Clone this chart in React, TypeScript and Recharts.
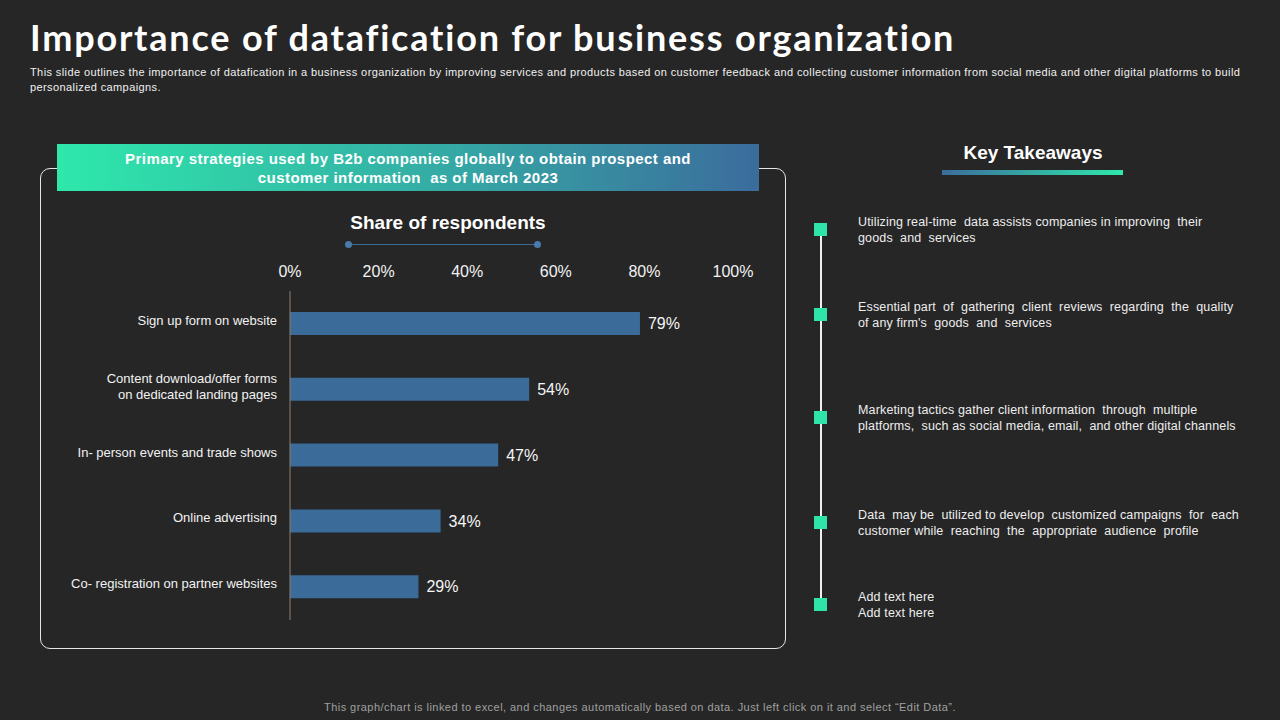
import React from "react";
import { BarChart, Bar, XAxis, YAxis, LabelList } from "recharts";

const categories = [
  "Sign up form on website",
  "Content download/offer forms\non dedicated landing pages",
  "In- person events and trade shows",
  "Online advertising",
  "Co- registration on partner websites",
];
const shares = [79, 54, 47, 34, 29];
const xTicks = [0, 20, 40, 60, 80, 100];

const takeaways = [
  "Utilizing real-time  data assists companies in improving  their\ngoods  and  services",
  "Essential part  of  gathering  client  reviews  regarding  the  quality\nof any firm's  goods  and  services",
  "Marketing tactics gather client information  through  multiple\nplatforms,  such as social media, email,  and other digital channels",
  "Data  may be  utilized to develop  customized campaigns  for  each\ncustomer while  reaching  the  appropriate  audience  profile",
  "Add text here\nAdd text here",
];
const takeawayY = [213, 298, 401, 506, 588];
const markerY = [229, 314, 417, 522, 604];

const data = categories.map((name, i) => ({ name, share: shares[i] }));

const BG = "#262626";
const BAR = "#3b6b98";
const GREEN = "#2ee4a8";
const NARROW = "'Liberation Sans Narrow', 'Liberation Sans', Arial, sans-serif";
const SANS = "'Liberation Sans', Arial, sans-serif";

function CategoryTick(props: any) {
  const { x, y, payload } = props;
  const lines = String(payload.value).split("\n");
  const lh = 16;
  const start = y - ((lines.length - 1) * lh) / 2;
  return (
    <text x={x - 5} y={start} textAnchor="end" fill="#f2f2f2" fontSize={13} fontFamily={NARROW} dominantBaseline="middle">
      {lines.map((l, i) => (
        <tspan key={i} x={x - 5} y={start + i * lh - 2}>
          {l}
        </tspan>
      ))}
    </text>
  );
}

export default function App() {
  return (
    <div
      style={{
        position: "absolute",
        left: 0,
        top: 0,
        width: 1280,
        height: 720,
        background: BG,
        overflow: "hidden",
        fontFamily: SANS,
        color: "#fff",
      }}
    >
      <div
        style={{
          position: "absolute",
          left: 30,
          top: 15,
          fontSize: 36,
          fontWeight: 700,
          fontFamily: "Lato, 'DejaVu Sans', sans-serif",
          letterSpacing: 1.8,
          whiteSpace: "nowrap",
        }}
      >
        Importance of datafication for business organization
      </div>
      <div
        style={{
          position: "absolute",
          left: 30,
          top: 65,
          fontSize: 11,
          lineHeight: "15px",
          fontFamily: NARROW,
          color: "#f0f0f0",
          letterSpacing: 0.4,
          whiteSpace: "pre",
        }}
      >
        {"This slide outlines the importance of datafication in a business organization by improving services and products based on customer feedback and collecting customer information from social media and other digital platforms to build\npersonalized campaigns."}
      </div>

      {/* chart box */}
      <div
        style={{
          position: "absolute",
          left: 40,
          top: 168,
          width: 746,
          height: 481,
          border: "1px solid #e6e6e6",
          borderRadius: 10,
          boxSizing: "border-box",
        }}
      />
      <div
        style={{
          position: "absolute",
          left: 57,
          top: 144,
          width: 702,
          height: 47,
          background: "linear-gradient(90deg, #2ee8ab 0%, #34b1a6 50%, #3b6c9c 100%)",
          textAlign: "center",
          fontSize: 15,
          fontWeight: 700,
          lineHeight: "19px",
          paddingTop: 5,
          boxSizing: "border-box",
          fontFamily: NARROW,
          whiteSpace: "pre",
          letterSpacing: 0.45,
        }}
      >
        {"Primary strategies used by B2b companies globally to obtain prospect and\ncustomer information  as of March 2023"}
      </div>
      <div
        style={{
          position: "absolute",
          left: 300,
          top: 212,
          width: 296,
          textAlign: "center",
          fontSize: 19,
          fontWeight: 700,
          fontFamily: NARROW,
        }}
      >
        Share of respondents
      </div>
      <div style={{ position: "absolute", left: 348, top: 243.5, width: 189, height: 1, background: BAR }} />
      <div style={{ position: "absolute", left: 345, top: 241, width: 7, height: 7, borderRadius: 4, background: "#4a7aab" }} />
      <div style={{ position: "absolute", left: 534, top: 241, width: 7, height: 7, borderRadius: 4, background: "#4a7aab" }} />

      <div style={{ position: "absolute", left: 40, top: 250 }}>
        <BarChart
          width={745}
          height={390}
          data={data}
          layout="vertical"
          margin={{ top: 11, right: 52, bottom: 20, left: 10 }}
          barSize={23}
        >
          <XAxis
            type="number"
            orientation="top"
            domain={[0, 100]}
            ticks={xTicks}
            tickFormatter={(v) => `${v}%`}
            axisLine={false}
            tickLine={false}
            tickMargin={8}
            height={30}
            tick={{ fill: "#f2f2f2", fontSize: 16, fontFamily: NARROW }}
            interval={0}
          />
          <YAxis
            type="category"
            dataKey="name"
            width={240}
            axisLine={{ stroke: "#8c8070" }}
            tickLine={false}
            tick={<CategoryTick />}
            interval={0}
          />
          <Bar dataKey="share" fill={BAR} isAnimationActive={false}>
            <LabelList
              dataKey="share"
              position="right"
              offset={8}
              formatter={(v: any) => `${v}%`}
              style={{ fill: "#f5f5f5", fontSize: 16, fontFamily: NARROW }}
            />
          </Bar>
        </BarChart>
      </div>

      {/* key takeaways */}
      <div
        style={{
          position: "absolute",
          left: 933,
          top: 142,
          width: 200,
          textAlign: "center",
          fontSize: 19,
          fontWeight: 700,
        }}
      >
        Key Takeaways
      </div>
      <div
        style={{
          position: "absolute",
          left: 942,
          top: 170,
          width: 181,
          height: 5,
          background: "linear-gradient(90deg, #3b6c9c 0%, #2ee8ab 100%)",
        }}
      />
      <div style={{ position: "absolute", left: 820, top: 229, width: 1.5, height: 376, background: "#f0f0f0" }} />
      {markerY.map((y, i) => (
        <div
          key={i}
          style={{ position: "absolute", left: 814, top: y - 6, width: 13, height: 13, background: GREEN }}
        />
      ))}
      {takeaways.map((t, i) => (
        <div
          key={i}
          style={{
            position: "absolute",
            left: 858,
            top: takeawayY[i] + 1,
            fontSize: 12.5,
            lineHeight: "16px",
            color: "#eeeeee",
            whiteSpace: "pre",
            letterSpacing: 0.15,
          }}
        >
          {t}
        </div>
      ))}

      <div
        style={{
          position: "absolute",
          left: 0,
          top: 701,
          width: 1280,
          textAlign: "center",
          fontSize: 11,
          color: "#a0a0a0",
          fontFamily: NARROW,
          letterSpacing: 0.45,
        }}
      >
        This graph/chart is linked to excel,  and changes automatically based on data. Just left click on it and select “Edit Data”.
      </div>
    </div>
  );
}
